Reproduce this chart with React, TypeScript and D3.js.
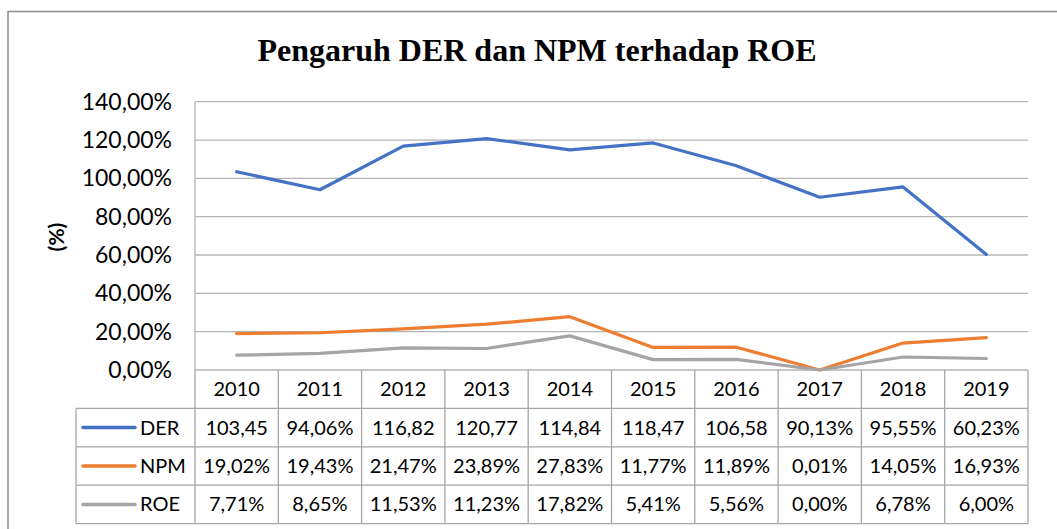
import React, { useEffect, useRef } from "react";
import * as d3 from "d3";

const years = ["2010", "2011", "2012", "2013", "2014", "2015", "2016", "2017", "2018", "2019"];
const der = [103.45, 94.06, 116.82, 120.77, 114.84, 118.47, 106.58, 90.13, 95.55, 60.23];
const npm = [19.02, 19.43, 21.47, 23.89, 27.83, 11.77, 11.89, 0.01, 14.05, 16.93];
const roe = [7.71, 8.65, 11.53, 11.23, 17.82, 5.41, 5.56, 0.0, 6.78, 6.0];
const yTicks = [0, 20, 40, 60, 80, 100, 120, 140];

const series = [
  { name: "DER", values: der, color: "#4472C4" },
  { name: "NPM", values: npm, color: "#ED7D31" },
  { name: "ROE", values: roe, color: "#A5A5A5" },
];

// excel style "12,34%" ; long values get clipped in the narrow cells
const fmt = (v: number) => {
  const s = v.toFixed(2).replace(".", ",") + "%";
  return s.length > 6 ? s.slice(0, 6) : s;
};

const App = () => {
  const svgRef = useRef(null);

  useEffect(() => {
    const svg = d3.select(svgRef.current);
    svg.selectAll("*").remove();

    const left = 195,
      right = 1028,
      top = 101.7,
      bottom = 370,
      rowH = 38.4,
      legendLeft = 76;

    const x = d3.scaleBand().domain(years).range([left, right]);
    const y = d3.scaleLinear().domain([0, 140]).range([bottom, top]);
    const cx = (d: string) => (x(d) as number) + x.bandwidth() / 2;

    // outer frame
    svg
      .append("rect")
      .attr("x", 8)
      .attr("y", 11.5)
      .attr("width", 1070)
      .attr("height", 540)
      .attr("fill", "none")
      .attr("stroke", "#8c8c8c")
      .attr("stroke-width", 1.5);

    svg
      .append("text")
      .attr("x", 537)
      .attr("y", 61)
      .attr("text-anchor", "middle")
      .attr("font-family", "Liberation Serif")
      .attr("font-weight", "bold")
      .attr("font-size", 32)
      .text("Pengaruh DER dan NPM terhadap ROE");

    // gridlines
    svg
      .append("g")
      .selectAll("line")
      .data(yTicks)
      .enter()
      .append("line")
      .attr("x1", left)
      .attr("x2", right)
      .attr("y1", (d) => y(d))
      .attr("y2", (d) => y(d))
      .attr("stroke", "#b4b4b4")
      .attr("stroke-width", 1.3);

    svg
      .append("line")
      .attr("x1", left)
      .attr("x2", left)
      .attr("y1", top)
      .attr("y2", bottom)
      .attr("stroke", "#b4b4b4")
      .attr("stroke-width", 1.3);

    svg
      .append("g")
      .selectAll("text")
      .data(yTicks)
      .enter()
      .append("text")
      .attr("x", 172)
      .attr("y", (d) => y(d) + 8)
      .attr("text-anchor", "end")
      .attr("font-family", "Lato")
      .attr("font-size", 23)
      .attr("fill", "#000")
      .text((d) => d.toFixed(2).replace(".", ",") + "%");

    svg
      .append("text")
      .attr("transform", "translate(64,237) rotate(-90)")
      .attr("text-anchor", "middle")
      .attr("font-family", "Lato")
      .attr("font-weight", "bold")
      .attr("font-size", 21)
      .text("(%)");

    // lines
    const line = d3
      .line<number>()
      .x((d, i) => cx(years[i]))
      .y((d) => y(d));

    series.forEach((s) => {
      svg
        .append("path")
        .attr("d", line(s.values))
        .attr("fill", "none")
        .attr("stroke", s.color)
        .attr("stroke-width", 3.2)
        .attr("stroke-linejoin", "round")
        .attr("stroke-linecap", "round");
    });

    // data table
    const grid = "#a6a6a6";
    const t = svg.append("g");
    const tableBottom = bottom + rowH * 4;

    years.forEach((yr) => {
      t.append("line")
        .attr("x1", (x(yr) as number) + x.bandwidth())
        .attr("x2", (x(yr) as number) + x.bandwidth())
        .attr("y1", bottom)
        .attr("y2", tableBottom)
        .attr("stroke", grid)
        .attr("stroke-width", 1.3);
      t.append("text")
        .attr("x", cx(yr))
        .attr("y", bottom + rowH / 2 + 7)
        .attr("text-anchor", "middle")
        .attr("font-family", "Lato")
        .attr("font-size", 20)
        .text(yr);
    });

    t.append("line")
      .attr("x1", left)
      .attr("x2", left)
      .attr("y1", bottom)
      .attr("y2", tableBottom)
      .attr("stroke", grid)
      .attr("stroke-width", 1.3);
    t.append("line")
      .attr("x1", legendLeft)
      .attr("x2", legendLeft)
      .attr("y1", bottom + rowH)
      .attr("y2", tableBottom)
      .attr("stroke", grid)
      .attr("stroke-width", 1.3);

    [1, 2, 3, 4].forEach((r) => {
      t.append("line")
        .attr("x1", legendLeft)
        .attr("x2", right)
        .attr("y1", bottom + rowH * r)
        .attr("y2", bottom + rowH * r)
        .attr("stroke", grid)
        .attr("stroke-width", 1.3);
    });

    series.forEach((s, r) => {
      const rowMid = bottom + rowH * (r + 1) + rowH / 2;
      t.append("line")
        .attr("x1", 83)
        .attr("x2", 135)
        .attr("y1", rowMid)
        .attr("y2", rowMid)
        .attr("stroke", s.color)
        .attr("stroke-width", 3.5)
        .attr("stroke-linecap", "round");
      t.append("text")
        .attr("x", 140)
        .attr("y", rowMid + 7)
        .attr("font-family", "Lato")
        .attr("font-size", 20)
        .text(s.name);
      t.selectAll(null)
        .data(s.values)
        .enter()
        .append("text")
        .attr("x", (d, i) => cx(years[i]))
        .attr("y", rowMid + 7)
        .attr("text-anchor", "middle")
        .attr("font-family", "Lato")
        .attr("font-size", 20)
        .text((d) => fmt(d));
    });
  });

  return (
    <svg
      ref={svgRef}
      width={1057}
      height={529}
      style={{ position: "absolute", left: 0, top: 0, background: "#fff" }}
    ></svg>
  );
};

export default App;
